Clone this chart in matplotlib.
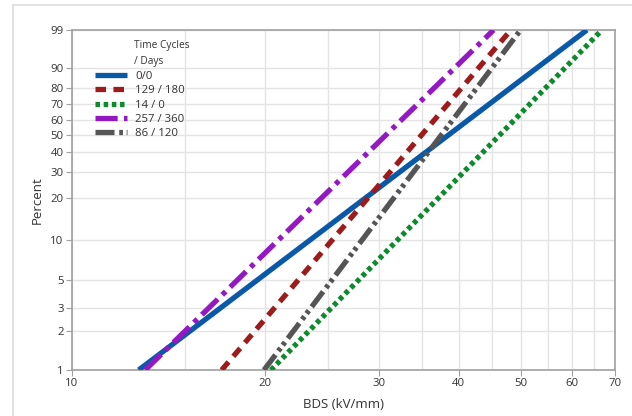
import numpy as np
import matplotlib
matplotlib.use("Agg")
import matplotlib.pyplot as plt
from matplotlib.lines import Line2D
from matplotlib.ticker import FixedLocator, NullFormatter

# ---- data ----
series = ["0/0", "129 / 180", "14 / 0", "257 / 360", "86 / 120"]
pct_ends = [1, 99]                                   # percent at the line ends
bds_at_1pct = [12.7, 17.1, 20.4, 13.0, 19.9]         # kV/mm where each line is at 1 %
bds_at_99pct = [63.3, 48.2, 66.8, 45.3, 49.9]        # kV/mm where each line is at 99 %
y_ticks = [1, 2, 3, 5, 10, 20, 30, 40, 50, 60, 70, 80, 90, 99]
x_ticks = [10, 20, 30, 40, 50, 60, 70]
x_minor = [15, 25, 35, 45, 55, 65]

colors = ["#0a59a8", "#9e1b1b", "#0d8a2b", "#9419c2", "#555555"]
styles = ["-", (0, (2.0, 1.4)), (0, (0.85, 0.7)), (0, (4.2, 1.2, 0.9, 1.2)),
          (0, (3.6, 0.9, 0.7, 0.7, 0.7, 0.9))]

plt.rcParams['font.family'] = ['Open Sans', 'DejaVu Sans']

def fwd(p):
    p = np.clip(np.asarray(p, dtype=float), 1e-9, 100 - 1e-9)
    return np.log(-np.log(1 - p / 100.0))

def inv(y):
    return 100.0 * (1 - np.exp(-np.exp(np.asarray(y, dtype=float))))

W, H = 632, 416
fig = plt.figure(figsize=(W / 100, H / 100), dpi=100)
ax = fig.add_axes([72 / W, 1 - 370 / H, (615 - 72) / W, (370 - 30) / H])

ax.set_xscale('log')
ax.set_yscale('function', functions=(fwd, inv))

for name, x1, x2, c, ls in zip(series, bds_at_1pct, bds_at_99pct, colors, styles):
    ax.plot([x1, x2], pct_ends, color=c, lw=3.8, linestyle=ls,
            solid_capstyle='butt', dash_capstyle='butt', label=name, zorder=3)

ax.set_xlim(10, 70)
ax.set_ylim(1, 99)

ax.xaxis.set_major_locator(FixedLocator(x_ticks))
ax.xaxis.set_minor_locator(FixedLocator(x_minor))
ax.xaxis.set_minor_formatter(NullFormatter())
ax.set_xticklabels([str(v) for v in x_ticks])
ax.yaxis.set_major_locator(FixedLocator(y_ticks))
ax.yaxis.set_minor_locator(FixedLocator([]))
ax.set_yticklabels([str(v) for v in y_ticks])

ax.grid(True, which='both', color='#e4e4e4', lw=1.0, zorder=0)
ax.set_axisbelow(True)
for s in ax.spines.values():
    s.set_color('#a0a0a0')
    s.set_linewidth(1.2)
ax.tick_params(axis='both', which='major', length=4, color='#a0a0a0',
               labelsize=8.2, labelcolor='#333333', pad=2)
ax.tick_params(axis='x', which='minor', length=0)

ax.set_xlabel("BDS (kV/mm)", fontsize=9.5, color='#333333', labelpad=6)
ax.set_ylabel("Percent", fontsize=9.5, color='#333333', labelpad=5)

leg = ax.legend(loc='upper left', bbox_to_anchor=((93 - 72) / (615 - 72), 1 - (69 - 30) / 340),
                frameon=False, fontsize=8.2, handlelength=2.8, handletextpad=0.7,
                labelspacing=0.28, borderpad=0.2, borderaxespad=0)
for t in leg.get_texts():
    t.set_color('#333333')
fig.text(134 / W, 1 - 40 / H, "Time Cycles\n/ Days", fontsize=7.3, color='#333333',
         va='top', ha='left', linespacing=1.65)

# outer light frame
fig.add_artist(Line2D([13 / W, 1], [1 - 5 / H, 1 - 5 / H], color='#dddddd', lw=1.2))
fig.add_artist(Line2D([13 / W, 13 / W], [0, 1 - 5 / H], color='#dddddd', lw=1.2))

fig.savefig("out.png", dpi=100)
